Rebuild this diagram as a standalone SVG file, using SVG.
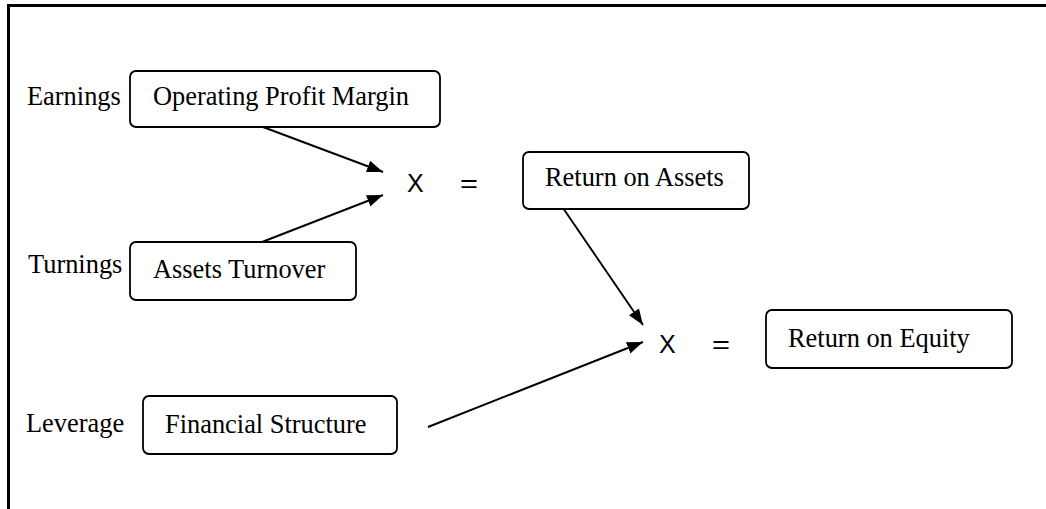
<svg xmlns="http://www.w3.org/2000/svg" width="1046" height="509" viewBox="0 0 1046 509">
<style>
.box{fill:#fff;stroke:#000;stroke-width:1.8}
.t{font-family:"Liberation Serif","Times New Roman",serif;font-size:26.4px;fill:#000}
.op{font-family:"Liberation Sans",Arial,sans-serif;font-size:25px;fill:#000}
.ln{stroke:#000;stroke-width:1.9;fill:none}
</style>
<defs>
<marker id="ah" markerUnits="userSpaceOnUse" markerWidth="18" markerHeight="14" refX="16" refY="6" orient="auto">
<path d="M0,0 L16,6 L0,12 z" fill="#000"/>
</marker>
</defs>
<rect width="1046" height="509" fill="#fff"/>
<g id="frame">
<path d="M8.5,509 V5.5 H1046" fill="none" stroke="#000" stroke-width="3"/>
</g>
<g id="connectors">
<line class="ln" x1="263" y1="127" x2="383" y2="172" marker-end="url(#ah)"/>
<line class="ln" x1="262" y1="242" x2="383" y2="195" marker-end="url(#ah)"/>
<line class="ln" x1="563" y1="208" x2="643" y2="325" marker-end="url(#ah)"/>
<line class="ln" x1="428" y1="427" x2="643" y2="342" marker-end="url(#ah)"/>
</g>
<g id="labels">
<text class="t" x="27" y="105">Earnings</text>
<text class="t" x="28" y="273">Turnings</text>
<text class="t" x="26" y="432">Leverage</text>
</g>
<g id="opm">
<rect class="box" x="130" y="71" width="310" height="56" rx="6"/>
<text class="t" x="153" y="105">Operating Profit Margin</text>
</g>
<g id="at">
<rect class="box" x="130" y="242" width="226" height="58" rx="6"/>
<text class="t" x="153" y="278">Assets Turnover</text>
</g>
<g id="fs">
<rect class="box" x="143" y="396" width="254" height="58" rx="6"/>
<text class="t" x="165" y="433">Financial Structure</text>
</g>
<g id="op1">
<text class="op" x="407" y="192">X</text>
<text class="op" x="460" y="192" textLength="18" lengthAdjust="spacingAndGlyphs">=</text>
</g>
<g id="roa">
<rect class="box" x="523" y="152" width="226" height="57" rx="6"/>
<text class="t" x="545" y="186">Return on Assets</text>
</g>
<g id="op2">
<text class="op" x="659" y="353">X</text>
<text class="op" x="712" y="353" textLength="18" lengthAdjust="spacingAndGlyphs">=</text>
</g>
<g id="roe">
<rect class="box" x="766" y="310" width="246" height="58" rx="6"/>
<text class="t" x="788" y="347">Return on Equity</text>
</g>
</svg>
